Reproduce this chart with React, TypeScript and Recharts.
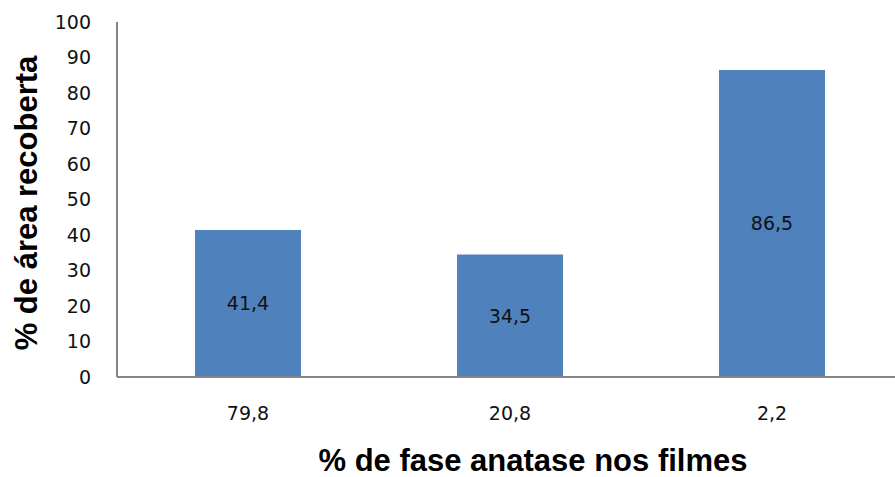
import React from "react";
import { BarChart, Bar, XAxis, YAxis, LabelList } from "recharts";

const categories = ["79,8", "20,8", "2,2"];
const coverage = [41.4, 34.5, 86.5];
const yTicks = [0, 10, 20, 30, 40, 50, 60, 70, 80, 90, 100];

const data = categories.map((c, i) => ({ name: c, value: coverage[i] }));

const tickFont = { fontFamily: "DejaVu Sans, Verdana, sans-serif", fontSize: 19, fill: "#111" };
const titleFont = "Liberation Sans, Arial, sans-serif";

const fmt = (v: number) => String(v).replace(".", ",");

export default function App() {
  return (
    <div style={{ position: "absolute", left: 0, top: 0, width: 895, height: 477, overflow: "hidden", background: "#fff" }}>
      <BarChart
        width={903}
        height={477}
        data={data}
        margin={{ top: 22, right: 0, bottom: 0, left: 0 }}
        barSize={106}
      >
        <XAxis
          dataKey="name"
          axisLine={{ stroke: "#868686", strokeWidth: 2 }}
          tickLine={false}
          tick={tickFont}
          tickMargin={24}
          height={100}
          label={() => (
            <text
              x={533}
              y={471}
              textAnchor="middle"
              fontFamily={titleFont}
              fontWeight="bold"
              fontSize={31}
              fill="#000"
            >
              % de fase anatase nos filmes
            </text>
          )}
        />
        <YAxis
          domain={[0, 100]}
          ticks={yTicks}
          interval={0}
          width={117}
          axisLine={{ stroke: "#868686", strokeWidth: 2 }}
          tickLine={false}
          tick={tickFont}
          tickMargin={20}
          label={() => (
            <text
              x={37}
              y={203}
              transform="rotate(-90 37 203)"
              textAnchor="middle"
              fontFamily={titleFont}
              fontWeight="bold"
              fontSize={31}
              fill="#000"
            >
              % de área recoberta
            </text>
          )}
        />
        <Bar dataKey="value" fill="#4F81BD" isAnimationActive={false}>
          <LabelList
            dataKey="value"
            position="center"
            formatter={(v: any) => fmt(v)}
            style={{ fontFamily: "DejaVu Sans, Verdana, sans-serif", fontSize: 19, fill: "#111" }}
          />
        </Bar>
      </BarChart>
    </div>
  );
}
